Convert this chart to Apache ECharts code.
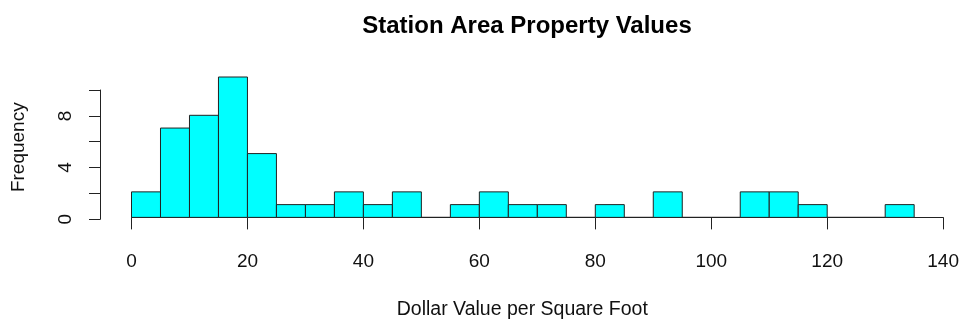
<!DOCTYPE html>
<html>
<head>
<meta charset="utf-8">
<script src="https://cdn.jsdelivr.net/npm/echarts@6/dist/echarts.min.js"></script>
<style>html,body{margin:0;padding:0;background:#fff;}#c{width:962px;height:321px;}</style>
</head>
<body>
<div id="c"></div>
<script>
var breaks = [0,5,10,15,20,25,30,35,40,45,50,55,60,65,70,75,80,85,90,95,100,105,110,115,120,125,130,135];
var counts = [2,7,8,11,5,1,1,2,1,2,0,1,2,1,1,0,1,0,2,0,0,2,2,1,0,0,1];
var xTicks = [0,20,40,60,80,100,120,140];
var yTickLabels = [0,4,8];
var titleText = 'Station Area Property Values';
var xName = 'Dollar Value per Square Foot';
var yName = 'Frequency';

var FONT = "'Liberation Sans', Arial, sans-serif";
var bins = counts.map(function (c, i) { return [breaks[i], breaks[i + 1], c]; });

var chart = echarts.init(document.getElementById('c'), null, {renderer: 'canvas'});
chart.setOption({
  backgroundColor: '#ffffff',
  animation: false,
  title: {
    text: titleText, left: 522, top: 9, textAlign: 'center',
    textStyle: {fontFamily: FONT, fontSize: 24, fontWeight: 'bold', color: '#000'}
  },
  grid: [
    {left: 131.5, right: 18, top: 71.4, bottom: 96.3},
    {left: 100, width: 10, top: 90, bottom: 101.7}
  ],
  xAxis: [
    {
      gridIndex: 0, type: 'value', min: 0, max: 140, interval: 20,
      position: 'bottom',
      axisLine: {show: true, lineStyle: {color: '#222', width: 1}},
      axisTick: {show: true, length: 12, inside: false, lineStyle: {color: '#222'}},
      axisLabel: {show: true, margin: 29, fontFamily: FONT, fontSize: 19, color: '#111'},
      splitLine: {show: false},
      name: xName, nameLocation: 'middle', nameGap: 77,
      nameTextStyle: {fontFamily: FONT, fontSize: 19.5, color: '#111', padding: [0, 30, 0, 0]}
    },
    {gridIndex: 1, type: 'value', min: 0, max: 1, show: false}
  ],
  yAxis: [
    {
      gridIndex: 0, type: 'value', min: -0.44, max: 11.44,
      axisLine: {show: false}, axisTick: {show: false}, axisLabel: {show: false}, splitLine: {show: false},
      name: yName, nameLocation: 'middle', nameGap: 103, nameRotate: 90,
      nameTextStyle: {fontFamily: FONT, fontSize: 19, color: '#111'}
    },
    {
      gridIndex: 1, type: 'value', min: 0, max: 10, interval: 2, position: 'left',
      axisLine: {show: true, lineStyle: {color: '#222', width: 1}},
      axisTick: {show: true, length: 11, inside: false, lineStyle: {color: '#222'}},
      axisLabel: {
        show: true, rotate: 90, margin: 25, fontFamily: FONT, fontSize: 19, color: '#111',
        formatter: function (v) { return yTickLabels.indexOf(v) >= 0 ? String(v) : ''; }
      },
      splitLine: {show: false}
    }
  ],
  series: [{
    type: 'custom',
    xAxisIndex: 0, yAxisIndex: 0,
    data: bins,
    renderItem: function (params, api) {
      var p0 = api.coord([api.value(0), 0]);
      var p1 = api.coord([api.value(1), api.value(2)]);
      return {
        type: 'rect',
        shape: {x: p0[0], y: p1[1], width: p1[0] - p0[0], height: p0[1] - p1[1]},
        style: {fill: '#00FFFF', stroke: '#222', lineWidth: 1}
      };
    }
  }]
});
</script>
</body>
</html>
